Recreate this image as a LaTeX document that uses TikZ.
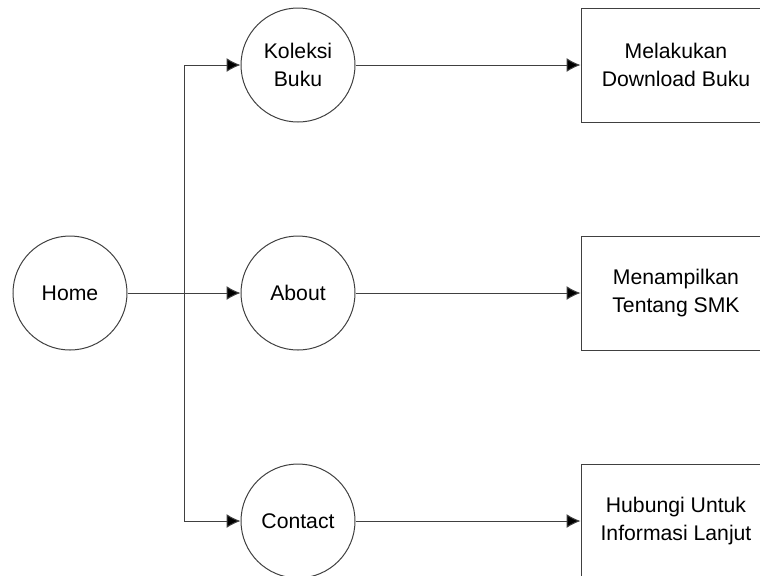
\documentclass[tikz,border=0pt]{standalone}
\usepackage{fontspec}
\setmainfont{Liberation Sans}
\usepackage{tikz}
\usetikzlibrary{arrows.meta,positioning,calc}

\begin{document}
\begin{tikzpicture}[x=0.5pt,y=-0.5pt,
  garis/.style={draw=black!75,line width=0.5pt},
  menu/.style={garis,circle,minimum size=57pt,inner sep=0pt,align=center,font=\fontsize{10.6}{14}\selectfont},
  hasil/.style={garis,rectangle,minimum width=95pt,minimum height=57pt,inner sep=0pt,align=center,font=\fontsize{10.6}{14}\selectfont},
  panah/.style={garis,-{Latex[length=7pt,width=7pt,fill=black]}}]
  \useasboundingbox (0,0) rectangle (760,575);
  \clip (0,0) rectangle (760,575);
  % Halaman utama dan menu
  \path (70,293) node[menu] (home) {Home};
  \path (298,65) node[menu] (koleksi) {Koleksi\\Buku};
  \path (298,293) node[menu] (about) {About};
  \path (298,521) node[menu] (contact) {Contact};
  % Hasil dari tiap menu
  \path (676,65) node[hasil] (download) {Melakukan\\Download Buku};
  \path (676,293) node[hasil] (tentang) {Menampilkan\\Tentang SMK};
  \path (676,521) node[hasil] (hubungi) {Hubungi Untuk\\Informasi Lanjut};
  % Garis penghubung
  \coordinate (cabang) at (184,293);
  \draw[panah] (home) -- (about);
  \draw[panah] (cabang) |- (koleksi);
  \draw[panah] (cabang) |- (contact);
  \draw[panah] (koleksi) -- (download);
  \draw[panah] (about) -- (tentang);
  \draw[panah] (contact) -- (hubungi);
\end{tikzpicture}
\end{document}
